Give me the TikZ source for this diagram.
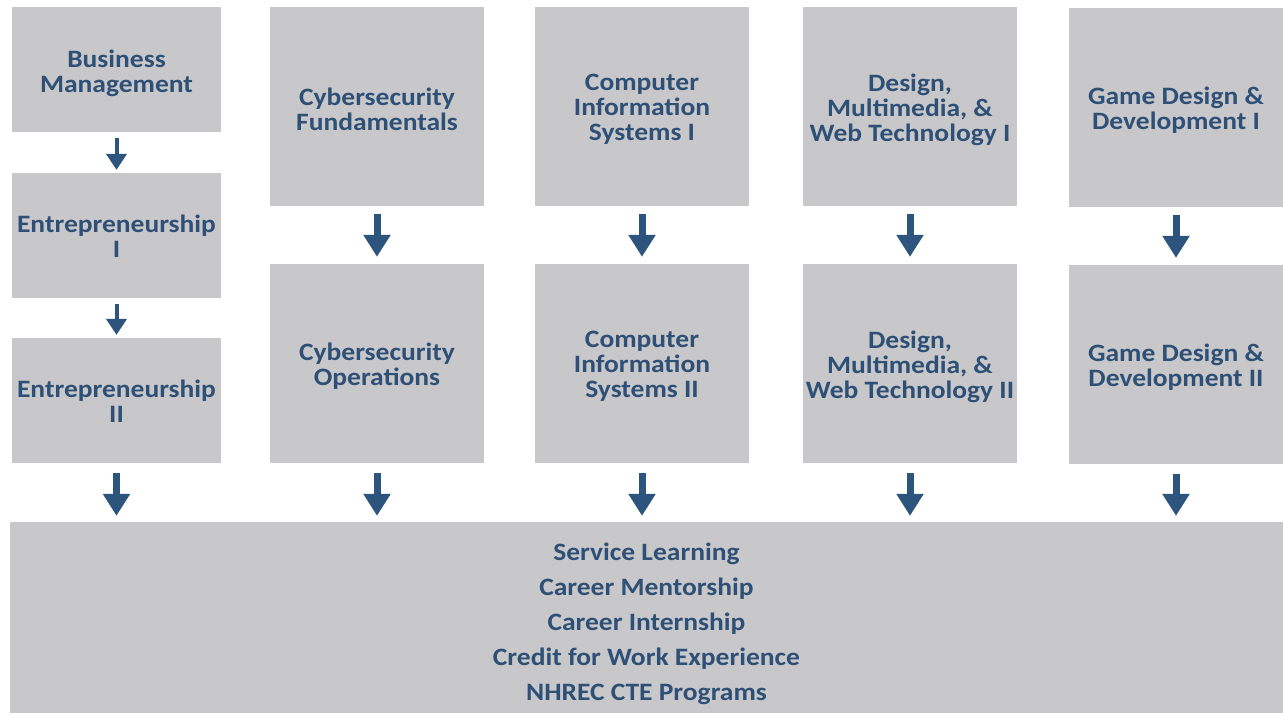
\documentclass[tikz,border=0pt]{standalone}
\usepackage{fontspec}
\setmainfont{Carlito}[FakeStretch=1.1]
\usetikzlibrary{arrows.meta}
\definecolor{boxgray}{RGB}{200,199,201}
\definecolor{txtblue}{RGB}{46,80,118}
\definecolor{arrblue}{RGB}{44,84,124}
\tikzset{
  course/.style={fill=boxgray, draw=none, inner sep=0pt},
  smallbox/.style={course, minimum width=209pt, minimum height=125pt},
  tallbox/.style={course, minimum width=214pt, minimum height=199pt},
  ctext/.style={inner sep=0pt, align=center, text=txtblue,
    font=\bfseries\fontsize{25}{25}\selectfont},
  smallarr/.style={draw=arrblue, line width=4pt, -{Triangle[width=20pt,length=16pt]}, arrblue},
  bigarr/.style={draw=arrblue, line width=7pt, -{Triangle[width=26pt,length=22pt]}, arrblue}
}
\begin{document}
\begin{tikzpicture}[x=1pt,y=-1pt]
\useasboundingbox[fill=white] (0,0) rectangle (1283,713);
% column 1
\node[smallbox] (bm) at (116.5,69.5) {};
\node[smallbox] (e1) at (116.5,235.5) {};
\node[smallbox] (e2) at (116.5,400.5) {};
% column 2
\node[tallbox] (cf) at (377,106.5) {};
\node[tallbox] (co) at (377,363.5) {};
% column 3
\node[tallbox] (ci1) at (642,106.5) {};
\node[tallbox] (ci2) at (642,363.5) {};
% column 4
\node[tallbox] (dm1) at (910,106.5) {};
\node[tallbox] (dm2) at (910,363.5) {};
% column 5
\node[tallbox] (gd1) at (1176,107.5) {};
\node[tallbox] (gd2) at (1176,364.5) {};
% bottom
\node[course, minimum width=1273pt, minimum height=191pt] (fin) at (646.5,617.5) {};
% texts
\node[ctext] (bm-t)  at ([yshift=-4pt]bm.center)  {Business\\Management};
\node[ctext] (e1-t)  at ([yshift=-1pt]e1.center)  {Entrepreneurship\\I};
\node[ctext] (e2-t)  at ([yshift=-1pt]e2.center)  {Entrepreneurship\\II};
\node[ctext] (cf-t)  at ([yshift=-3pt]cf.center)  {Cybersecurity\\Fundamentals};
\node[ctext] (co-t)  at ([yshift=-3pt]co.center)  {Cybersecurity\\Operations};
\node[ctext] (ci1-t) at ([yshift=-3pt]ci1.center) {Computer\\Information\\Systems I};
\node[ctext] (ci2-t) at ([yshift=-3pt]ci2.center) {Computer\\Information\\Systems II};
\node[ctext] (dm1-t) at ([yshift=-3pt]dm1.center) {Design,\\Multimedia, \&\\Web Technology I};
\node[ctext] (dm2-t) at ([yshift=-3pt]dm2.center) {Design,\\Multimedia, \&\\Web Technology II};
\node[ctext] (gd1-t) at ([yshift=-3pt]gd1.center) {Game Design \&\\Development I};
\node[ctext] (gd2-t) at ([yshift=-3pt]gd2.center) {Game Design \&\\Development II};
\node[ctext, font=\bfseries\fontsize{25}{35}\selectfont] (fin-t) at ([yshift=-6pt]fin.center)
  {Service Learning\\Career Mentorship\\Career Internship\\Credit for Work Experience\\NHREC CTE Programs};
% arrows column 1
\draw[smallarr, shorten <=6pt, shorten >=3pt] (bm.south) -- (e1.north);
\draw[smallarr, shorten <=6pt, shorten >=3pt] (e1.south) -- (e2.north);
% arrows between rows
\foreach \a/\b in {cf/co, ci1/ci2, dm1/dm2, gd1/gd2}
  \draw[bigarr, shorten <=8pt, shorten >=7pt] (\a.south) -- (\b.north);
% arrows into bottom box
\foreach \a in {e2, co, ci2, dm2, gd2}
  \draw[bigarr, shorten <=10pt, shorten >=6pt] (\a.south) -- (\a.south |- fin.north);
\end{tikzpicture}
\end{document}
